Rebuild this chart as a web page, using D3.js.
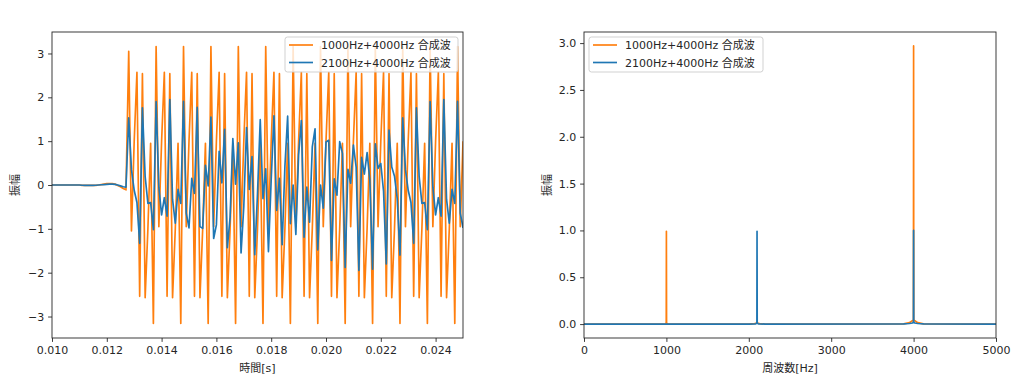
<!DOCTYPE html>
<html lang="ja">
<head>
  <meta charset="UTF-8">
  <title>合成波</title>
  <script src="https://d3js.org/d3.v7.min.js"></script>
  <style>
    body { margin: 0; background: #fff; font-family: "DejaVu Sans", "Noto Sans CJK JP", sans-serif; }
    .tick text { font-size: 11px; fill: #262626; font-family: "DejaVu Sans", "Noto Sans CJK JP", sans-serif; }
    .tick line { stroke: #262626; stroke-width: 0.9; }
    .domain { display: none; }
    .frame { fill: none; stroke: #262626; stroke-width: 0.9; }
    .label { font-size: 11px; fill: #262626; }
    .legend text { font-size: 11px; fill: #262626; }
  </style>
</head>
<body>
<div id="chart"></div>
<script>
// time domain: samples every 0.1 ms starting at 0.010 s
const sampleRate = 10000;
const tStart = 0.010;

const seriesNames = ["1000Hz+4000Hz 合成波", "2100Hz+4000Hz 合成波"];
const seriesColors = ["#ff7f0e", "#1f77b4"];

const orangeAmp = [
  0.00, 0.00, 0.00, 0.00, 0.00, 0.00, 0.00, 0.00, 0.00, 0.00,
  0.00, -0.01, -0.01, -0.01, -0.01, -0.01, -0.01, 0.00, 0.01, 0.02,
  0.03, 0.03, 0.03, 0.02, -0.01, -0.04, -0.08, -0.11,
  3.05, -1.05, 1.00, 2.57, -2.54, 2.54, -2.57, -1.00, 0.95, -3.16,
  3.16, -0.95, 1.00, 2.57, -2.54, 2.54, -2.57, -1.00, 0.95, -3.16,
  3.16, -0.95, 1.00, 2.57, -2.54, 2.54, -2.57, -1.00, 0.95, -3.16,
  3.16, -0.95, 1.00, 2.57, -2.54, 2.54, -2.57, -1.00, 0.95, -3.16,
  3.16, -0.95, 1.00, 2.57, -2.54, 2.54, -2.57, -1.00, 0.95, -3.16,
  3.16, -0.95, 1.00, 2.57, -2.54, 2.54, -2.57, -1.00, 0.95, -3.16,
  3.16, -0.95, 1.00, 2.57, -2.54, 2.54, -2.57, -1.00, 0.95, -3.16,
  3.16, -0.95, 1.00, 2.57, -2.54, 2.54, -2.57, -1.00, 0.95, -3.16,
  3.16, -0.95, 1.00, 2.57, -2.54, 2.54, -2.57, -1.00, 0.95, -3.16,
  3.16, -0.95, 1.00, 2.57, -2.54, 2.54, -2.57, -1.00, 0.95, -3.16,
  3.16, -0.95, 1.00, 2.57, -2.54, 2.54, -2.57, -1.00, 0.95, -3.16,
  3.16, -0.95, 1.00, 2.57, -2.54, 2.54, -2.57, -1.00, 0.95, -3.16,
  3.16, -0.95, 1.00
];

const blueAmp = [
  0.00, 0.00, 0.00, 0.00, 0.00, 0.00, 0.00, 0.00, 0.00, 0.00,
  0.00, -0.005, -0.01, -0.01, -0.01, -0.01, -0.005, 0.00, 0.005, 0.01,
  0.015, 0.02, 0.02, 0.015, 0.00, -0.02, -0.04, -0.05,
  1.53, 0.35, -0.12, -0.40, -1.33, 1.76, 0.19, -0.42, -0.40, -1.02,
  1.90, -0.05, -0.68, -0.29, -0.71, 1.95, -0.33, -0.87, -0.10, -0.42,
  1.91, -0.64, -0.98, 0.15, -0.19, 1.77, -0.95, -0.99, 0.45, -0.02,
  1.55, -1.22, -0.91, 0.77, 0.05, 1.27, -1.43, -0.74, 1.06, 0.02,
  0.96, -1.55, -0.49, 1.31, -0.10, 0.65, -1.59, -0.20, 1.49, -0.31,
  0.37, -1.52, 0.12, 1.58, -0.58, 0.15, -1.36, 0.42, 1.57, -0.88,
  0.00, -1.13, 0.68, 1.47, -1.19, -0.05, -0.85, 0.87, 1.28, -1.48,
  0.00, -0.53, 0.98, 1.02, -1.72, 0.14, -0.23, 0.99, 0.72, -1.88,
  0.36, 0.04, 0.91, 0.41, -1.95, 0.63, 0.25, 0.74, 0.11, -1.92,
  0.94, 0.38, 0.49, -0.14, -1.80, 1.25, 0.41, 0.20, -0.31, -1.60,
  1.53, 0.35, -0.12, -0.40, -1.33, 1.76, 0.19, -0.42, -0.40, -1.02,
  1.90, -0.05, -0.68, -0.29, -0.71, 1.95, -0.33, -0.87, -0.10, -0.42,
  1.91, -0.64, -0.98
];

// spectrum
const freqOrange = [0, 900, 985, 998, 1000, 1002, 1015, 1100, 2000, 2070, 2100, 2130, 2200,
                    3880, 3950, 3985, 3998, 4000, 4002, 4015, 4050, 4120, 5000];
const specOrange = [0, 0, 0.003, 0.008, 0.99, 0.008, 0.003, 0, 0, 0.006, 0.012, 0.006, 0,
                    0.003, 0.015, 0.035, 0.045, 2.97, 0.045, 0.035, 0.015, 0.003, 0];
const freqBlue = [0, 2000, 2085, 2098, 2100, 2102, 2115, 2200,
                  3880, 3950, 3985, 3998, 4000, 4002, 4015, 4050, 4120, 5000];
const specBlue = [0, 0, 0.003, 0.008, 0.99, 0.008, 0.003, 0,
                  0.002, 0.006, 0.012, 0.018, 1.00, 0.018, 0.012, 0.006, 0.002, 0];

const timeTicks = [0.010, 0.012, 0.014, 0.016, 0.018, 0.020, 0.022, 0.024];
const ampTicks = [-3, -2, -1, 0, 1, 2, 3];
const freqTicks = [0, 1000, 2000, 3000, 4000, 5000];
const specTicks = [0, 0.5, 1.0, 1.5, 2.0, 2.5, 3.0];

const svg = d3.select("#chart").append("svg")
  .attr("width", 1024)
  .attr("height", 382);

function panel(box, xDomain, yDomain, xTicks, yTicks, xFmt, yFmt, xLabel, yLabel, series, legendBox, id) {
  const x = d3.scaleLinear().domain(xDomain).range([box.left, box.right]);
  const y = d3.scaleLinear().domain(yDomain).range([box.bottom, box.top]);

  svg.append("clipPath").attr("id", id)
    .append("rect")
    .attr("x", box.left).attr("y", box.top)
    .attr("width", box.right - box.left).attr("height", box.bottom - box.top);

  svg.append("g")
    .attr("transform", `translate(0,${box.bottom})`)
    .call(d3.axisBottom(x).tickValues(xTicks).tickFormat(xFmt).tickSize(3.9).tickPadding(3.9));
  svg.append("g")
    .attr("transform", `translate(${box.left},0)`)
    .call(d3.axisLeft(y).tickValues(yTicks).tickFormat(yFmt).tickSize(3.9).tickPadding(3.9));

  const line = d3.line().x(d => x(d[0])).y(d => y(d[1]));
  series.forEach((s, i) => {
    svg.append("path")
      .datum(s)
      .attr("clip-path", `url(#${id})`)
      .attr("fill", "none")
      .attr("stroke", seriesColors[i])
      .attr("stroke-width", 1.67)
      .attr("stroke-linejoin", "round")
      .attr("d", line);
  });

  svg.append("rect").attr("class", "frame")
    .attr("x", box.left).attr("y", box.top)
    .attr("width", box.right - box.left).attr("height", box.bottom - box.top);

  svg.append("text").attr("class", "label")
    .attr("x", (box.left + box.right) / 2).attr("y", 372)
    .attr("text-anchor", "middle").text(xLabel);
  svg.append("text").attr("class", "label")
    .attr("transform", `translate(${box.left - 33},${(box.top + box.bottom) / 2}) rotate(-90)`)
    .attr("text-anchor", "middle").text(yLabel);

  // legend
  const lg = svg.append("g").attr("class", "legend");
  lg.append("rect")
    .attr("x", legendBox.x).attr("y", legendBox.y)
    .attr("width", legendBox.w).attr("height", 35)
    .attr("rx", 2.5)
    .attr("fill", "#fff").attr("fill-opacity", 0.8)
    .attr("stroke", "#cccccc").attr("stroke-width", 0.9);
  seriesNames.forEach((name, i) => {
    const yy = legendBox.y + 8 + i * 17.5;
    lg.append("line")
      .attr("x1", legendBox.x + 4).attr("x2", legendBox.x + 28)
      .attr("y1", yy).attr("y2", yy)
      .attr("stroke", seriesColors[i]).attr("stroke-width", 1.67);
    lg.append("text")
      .attr("x", legendBox.x + 36).attr("y", yy + 4)
      .text(name);
  });
}

const timeData = [orangeAmp, blueAmp].map(arr => arr.map((v, i) => [tStart + i / sampleRate, v]));

panel({left: 52, right: 463, top: 32, bottom: 338},
  [0.010, 0.025], [-3.49, 3.49], timeTicks, ampTicks,
  d3.format(".3f"), d3.format("d"), "時間[s]", "振幅",
  timeData, {x: 285, y: 37, w: 173}, "clipTime");

const specData = [
  freqOrange.map((f, i) => [f, specOrange[i]]),
  freqBlue.map((f, i) => [f, specBlue[i]])
];

panel({left: 584, right: 996, top: 32, bottom: 338},
  [0, 5000], [-0.1485, 3.1185], freqTicks, specTicks,
  d3.format("d"), d3.format(".1f"), "周波数[Hz]", "振幅",
  specData, {x: 589, y: 37, w: 174}, "clipFreq");
</script>
</body>
</html>
